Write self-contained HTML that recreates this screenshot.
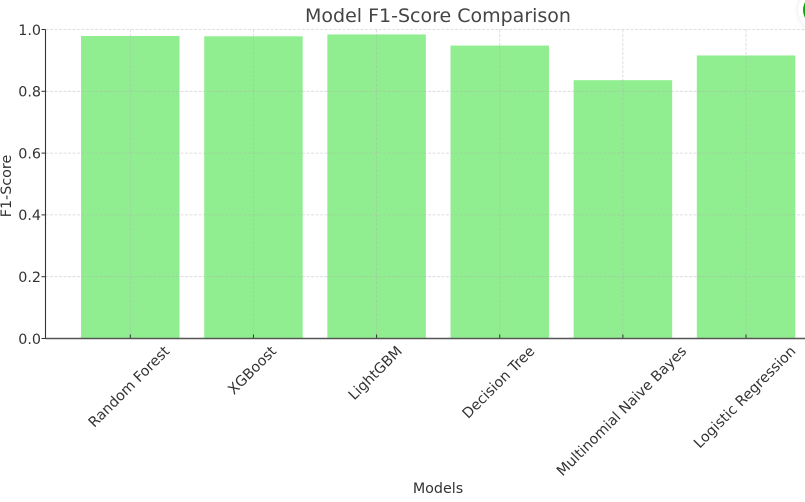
<!DOCTYPE html>
<html>
<head>
<meta charset="utf-8">
<style>
html,body{margin:0;padding:0;background:#fff;width:805px;height:502px;overflow:hidden}
svg{display:block}
text{font-family:"DejaVu Sans","Liberation Sans",sans-serif;fill:#333}
</style>
</head>
<body>
<svg id="chart" width="805" height="502" viewBox="0 0 805 502" xmlns="http://www.w3.org/2000/svg">
  <defs>
    <filter id="blur-shadow" x="-50%" y="-50%" width="200%" height="200%"><feGaussianBlur stdDeviation="3"/></filter>
  </defs>
  <g id="bars"></g>
  <g id="grid"></g>
  <g id="axes"></g>
  <text x="438" y="22" text-anchor="middle" font-size="19" style="fill:#444">Model F1-Score Comparison</text>
  <text x="438" y="493" text-anchor="middle" font-size="14.3">Models</text>
  <text transform="translate(11,186) rotate(-90)" text-anchor="middle" font-size="14.3">F1-Score</text>
  <g>
    <circle cx="819" cy="10" r="21" fill="#000" opacity="0.10" filter="url(#blur-shadow)"/>
    <circle cx="819" cy="10" r="21" fill="#fff"/>
    <circle cx="819" cy="10" r="16" fill="#10a010"/>
  </g>
</svg>
<script>
const categories = ["Random Forest", "XGBoost", "LightGBM", "Decision Tree", "Multinomial Naive Bayes", "Logistic Regression"];
const f1Scores = [0.979, 0.978, 0.984, 0.948, 0.836, 0.916];
const yTicks = [0.0, 0.2, 0.4, 0.6, 0.8, 1.0];

const NS = "http://www.w3.org/2000/svg";
const plotLeft = 45.5, plotRight = 805, yZero = 338.5, yOne = 29.5;
const firstTick = 130.3, tickStep = 123.15, barWidth = 98.5;

function yScale(v) { return yZero - v * (yZero - yOne); }
function xScale(i) { return firstTick + i * tickStep; }
function mk(tag, attrs, parent) {
  const el = document.createElementNS(NS, tag);
  for (const k in attrs) el.setAttribute(k, attrs[k]);
  parent.appendChild(el);
  return el;
}

const barsG = document.getElementById("bars");
const gridG = document.getElementById("grid");
const axesG = document.getElementById("axes");

f1Scores.forEach(function (v, i) {
  const r = mk("rect", {
    x: xScale(i) - barWidth / 2,
    y: yScale(v),
    width: barWidth,
    height: yScale(0) - yScale(v),
    fill: "#90ee90"
  }, barsG);
  
  
});

yTicks.forEach(function (t) {
  const y = yScale(t);
  if (t > 0) {
    const g = mk("line", {
      x1: plotLeft, x2: plotRight, y1: y, y2: y,
      stroke: "#b0b0b0", "stroke-width": 0.8, "stroke-dasharray": "3 1.5", opacity: 0.5
    }, gridG);
    
    
  }
  const tick = mk("line", { x1: plotLeft - 4, x2: plotLeft, y1: y, y2: y, stroke: "#333", "stroke-width": 1 }, axesG);
  
  
  const lab = mk("text", { x: 41, y: y + 5.3, "text-anchor": "end", "font-size": 14.3 }, axesG);
  
  
  lab.textContent = t.toFixed(1);
});

categories.forEach(function (c, i) {
  const x = xScale(i);
  const g = mk("line", {
    x1: x, x2: x, y1: yOne, y2: yZero,
    stroke: "#b0b0b0", "stroke-width": 0.8, "stroke-dasharray": "3 1.5", opacity: 0.5
  }, gridG);
  
  
  const tick = mk("line", { x1: x, x2: x, y1: yZero, y2: yZero - 4, stroke: "#333", "stroke-width": 1 }, axesG);
  
  
  const lab = mk("text", { x: 0, y: 0, "text-anchor": "middle", "font-size": 14.3 }, axesG);
  
  
  lab.textContent = c;
  const len = lab.getComputedTextLength();
  const h = 14;
  const cy = 343.5 + (len + h) * Math.SQRT1_2 / 2;
  lab.setAttribute("transform", "translate(" + (x - 1.5) + "," + cy + ") rotate(-45) translate(0,5)");
});

const ySpine = mk("line", { x1: plotLeft, x2: plotLeft, y1: yOne, y2: yZero + 0.5, stroke: "#333", "stroke-width": 1.1 }, axesG);


const xSpine = mk("line", { x1: plotLeft, x2: plotRight, y1: yZero, y2: yZero, stroke: "#555", "stroke-width": 1.4 }, axesG);


</script>
</body>
</html>
